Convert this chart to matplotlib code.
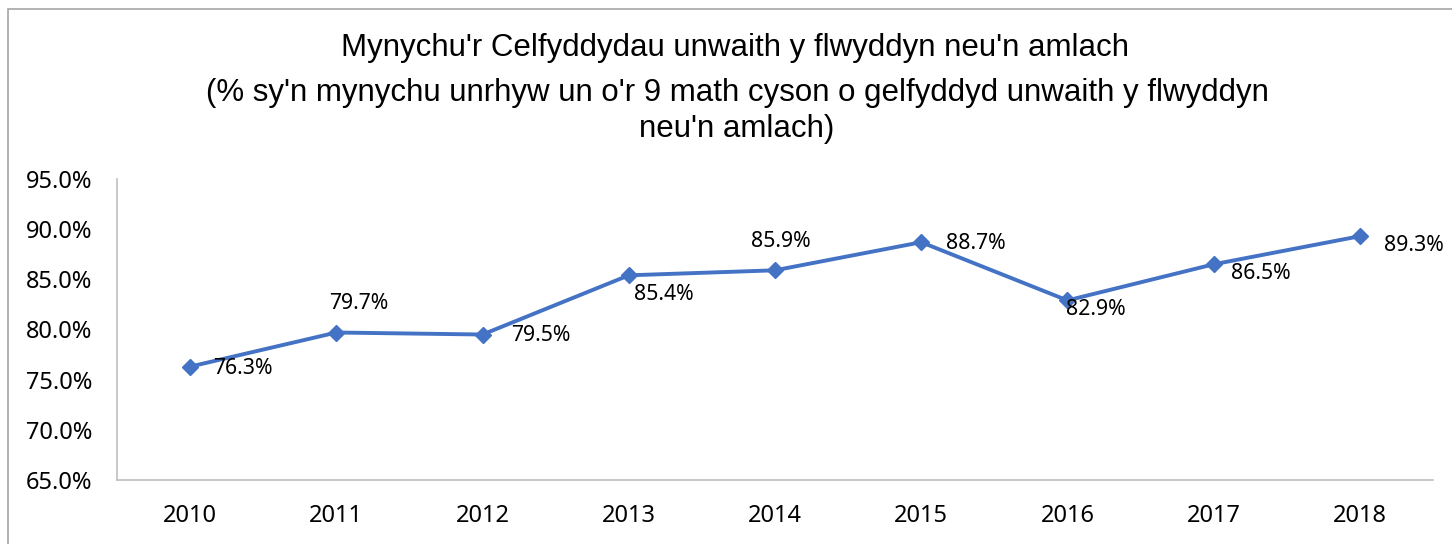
import matplotlib
matplotlib.use("Agg")
import matplotlib.pyplot as plt
from matplotlib.patches import Rectangle

years = ["2010", "2011", "2012", "2013", "2014", "2015", "2016", "2017", "2018"]
values = [76.3, 79.7, 79.5, 85.4, 85.9, 88.7, 82.9, 86.5, 89.3]

# label offsets in pixels (left edge, vertical centre) relative to each point
label_offsets = [(23, -2), (-7, 29), (29, -1), (5, -19), (-24, 29),
                 (25, -1), (-1, -9), (17, -9), (24, -9)]

LINE_COLOR = "#4472C4"
TEXT_FONT = ["Noto Sans", "DejaVu Sans"]
TITLE_FONT = ["Liberation Sans Narrow", "Liberation Sans", "DejaVu Sans"]

fig = plt.figure(figsize=(14.52, 5.44), dpi=100)
fig.patch.set_facecolor("white")

# outer chart border (only top/left edges fall inside the image)
fig.patches.append(Rectangle((8 / 1452, -0.1), 1.2, (544 - 9) / 544 + 0.1,
                             transform=fig.transFigure, fill=False,
                             edgecolor="#a6a6a6", linewidth=1.2))

ax = fig.add_axes([117 / 1452, 64 / 544, (1433 - 117) / 1452, (480 - 179) / 544])
x = list(range(len(years)))
ax.plot(x, values, color=LINE_COLOR, linewidth=2.8, marker="D",
        markersize=8.5, markerfacecolor=LINE_COLOR, markeredgecolor=LINE_COLOR,
        zorder=3)

for xi, v, (dx, dy) in zip(x, values, label_offsets):
    ax.annotate(f"{v:.1f}%", (xi, v), xytext=(dx, dy), textcoords="offset pixels",
                ha="left", va="center", fontsize=15.3, family=TEXT_FONT,
                color="#000000")

ax.set_xlim(-0.5, len(years) - 0.5)
ax.set_ylim(65, 95)
ax.set_yticks([65, 70, 75, 80, 85, 90, 95])
ax.set_yticklabels([f"{t:.1f}%" for t in [65, 70, 75, 80, 85, 90, 95]])
ax.set_xticks(x)
ax.set_xticklabels(years)
for lab in ax.get_xticklabels() + ax.get_yticklabels():
    lab.set_family(TEXT_FONT)
    lab.set_fontsize(17)
ax.tick_params(axis="both", length=0)
ax.tick_params(axis="y", pad=18)
ax.tick_params(axis="x", pad=17)

for side in ["top", "right"]:
    ax.spines[side].set_visible(False)
for side in ["left", "bottom"]:
    ax.spines[side].set_color("#bfbfbf")
    ax.spines[side].set_linewidth(1.2)

fig.text(735 / 1452, 1 - 48 / 544, "Mynychu'r Celfyddydau unwaith y flwyddyn neu'n amlach",
         ha="center", va="center", fontsize=22.5, family=TITLE_FONT)
fig.text(737 / 1452, 1 - 93 / 544,
         "(% sy'n mynychu unrhyw un o'r 9 math cyson o gelfyddyd unwaith y flwyddyn",
         ha="center", va="center", fontsize=22.5, family=TITLE_FONT)
fig.text(737 / 1452, 1 - 129 / 544, "neu'n amlach)",
         ha="center", va="center", fontsize=22.5, family=TITLE_FONT)

fig.savefig("out.png", dpi=100, facecolor="white")
